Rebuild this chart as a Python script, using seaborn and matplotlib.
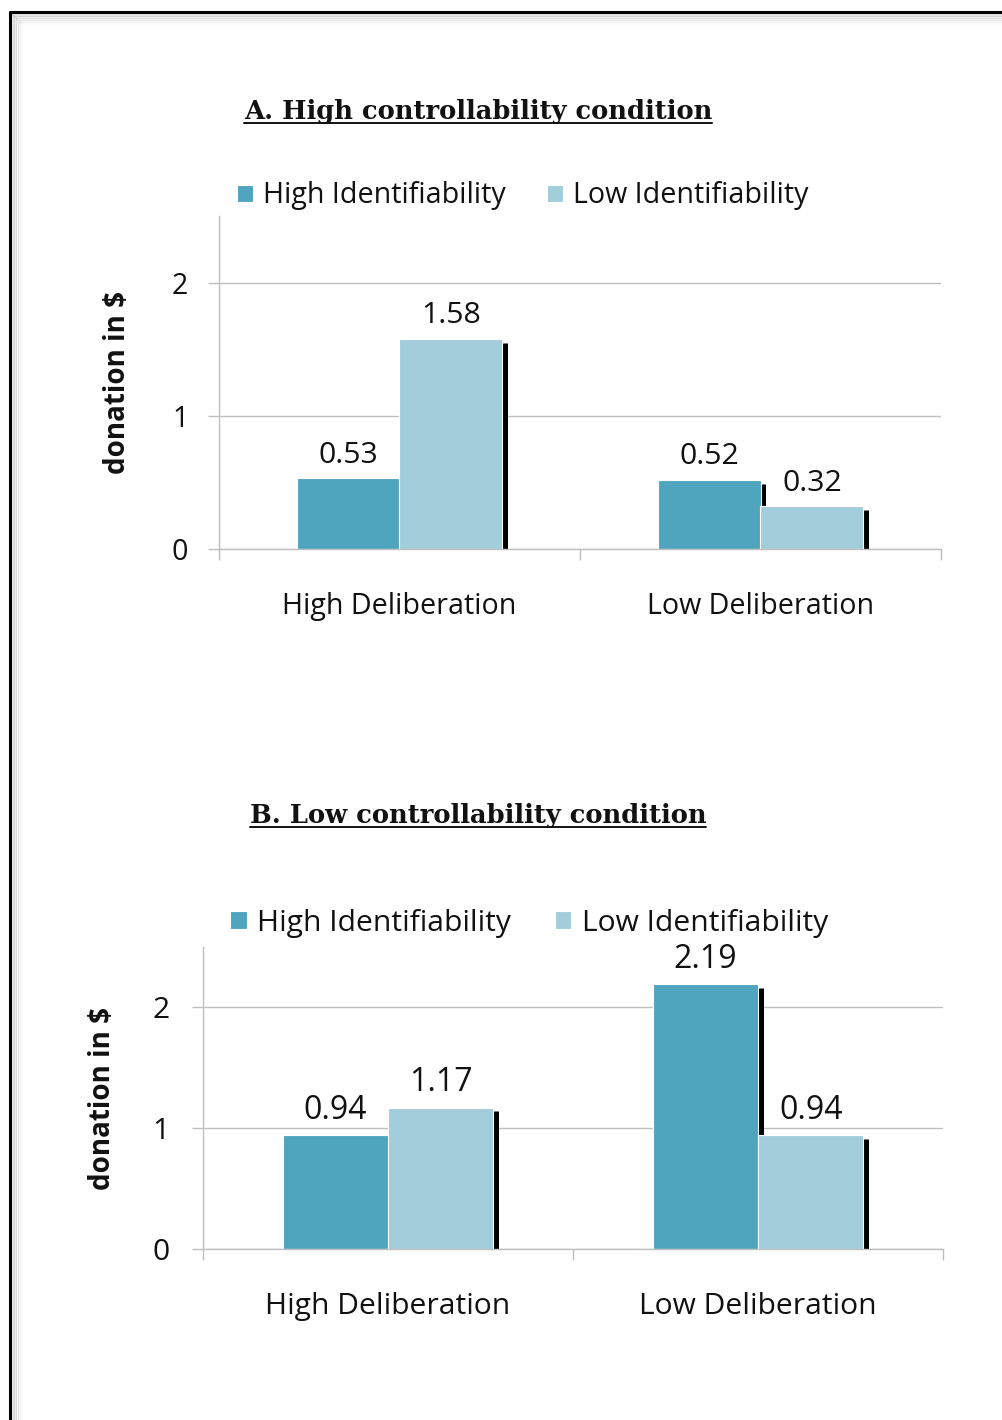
import matplotlib
matplotlib.use("Agg")
import matplotlib.pyplot as plt
from matplotlib.lines import Line2D
from matplotlib.ticker import FixedLocator, NullFormatter
import seaborn as sns
import pandas as pd

# Data
deliberation = ["High Deliberation", "Low Deliberation"]
identifiability = ["High Identifiability", "Low Identifiability"]
high_ctrl_high_ident = [0.53, 0.52]
high_ctrl_low_ident = [1.58, 0.32]
low_ctrl_high_ident = [0.94, 2.19]
low_ctrl_low_ident = [1.17, 0.94]
y_ticks = [0, 1, 2]

DARK = "#4FA5BE"
LIGHT = "#A2CEDB"
GRID = "#BFBFBF"
TXT = "#111111"

sns.set_theme(style="white")
plt.rcParams["font.family"] = ["Open Sans", "DejaVu Sans"]


def long_frame(high_vals, low_vals):
    rows = []
    for d, hv, lv in zip(deliberation, high_vals, low_vals):
        rows.append({"deliberation": d, "ident": identifiability[0], "donation": hv})
        rows.append({"deliberation": d, "ident": identifiability[1], "donation": lv})
    return pd.DataFrame(rows)


fig = plt.figure(figsize=(10.03, 14.2), dpi=100)


def panel(rect, df, title, title_xy, legend_xy, ylabel_x, fs, val_fs, ypad):
    ax = fig.add_axes(rect)
    sns.barplot(data=df, x="deliberation", y="donation", hue="ident",
                order=deliberation, hue_order=identifiability,
                palette=[DARK, LIGHT], saturation=1, width=0.57, gap=0,
                edgecolor="white", linewidth=0.8, ax=ax, legend=True)
    ax.set_axisbelow(True)
    ax.set_ylim(0, 2.5)
    ax.set_xlim(-0.5, 1.5)

    # dark shadow strip along the right edge of every bar
    for p in ax.patches:
        h = p.get_height()
        if h <= 0:
            continue
        xr = p.get_x() + p.get_width() + 0.0075
        ax.vlines(xr, 0, h - 0.03, colors="black", linewidth=3.6, zorder=0.9)

    # value labels
    for cont in ax.containers:
        ax.bar_label(cont, labels=[f"{v:.2f}" for v in cont.datavalues],
                     padding=6, fontsize=val_fs, color=TXT)

    # axes styling
    for s in ["top", "right"]:
        ax.spines[s].set_visible(False)
    for s in ["left", "bottom"]:
        ax.spines[s].set_color(GRID)
        ax.spines[s].set_linewidth(1.0)
    ax.set_yticks(y_ticks)
    ax.set_yticklabels([str(t) for t in y_ticks])
    ax.yaxis.grid(True, color=GRID, linewidth=1.0)
    ax.tick_params(axis="y", which="major", length=8, width=1, color=GRID,
                   direction="out", left=True, pad=ypad, labelsize=fs,
                   labelcolor=TXT)
    ax.tick_params(axis="x", which="major", length=0, pad=31, labelsize=fs,
                   labelcolor=TXT)
    ax.xaxis.set_minor_locator(FixedLocator([-0.5, 0.5, 1.5]))
    ax.xaxis.set_minor_formatter(NullFormatter())
    ax.tick_params(axis="x", which="minor", length=8, width=1, color=GRID,
                   direction="out", bottom=True)
    ax.set_xlabel("")
    ax.set_ylabel("")

    fig.text(ylabel_x, rect[1] + rect[3] * 0.5, "donation in $",
             rotation=90, ha="center", va="center", fontsize=20,
             fontweight="bold", color=TXT)

    handles, labels = ax.get_legend_handles_labels()
    ax.legend_.remove()
    fig.legend(handles, labels, loc="center", bbox_to_anchor=legend_xy,
               ncol=2, frameon=False, fontsize=fs, handlelength=0.55,
               handleheight=0.55, handletextpad=0.35, columnspacing=1.45,
               labelcolor=TXT)

    t = fig.text(title_xy[0], title_xy[1], title, ha="center", va="center",
                 fontsize=18.5, fontweight="bold", family="DejaVu Serif",
                 color=TXT)
    return ax, t


W, H = 1003, 1420
rectA = [219 / W, 1 - 549 / H, (941 - 219) / W, (549 - 216) / H]
rectB = [203 / W, 1 - 1249 / H, (943 - 203) / W, (1249 - 947) / H]

axA, tA = panel(rectA, long_frame(high_ctrl_high_ident, high_ctrl_low_ident),
                "A. High controllability condition", (478 / W, 1 - 111 / H),
                (523 / W, 1 - 196 / H), 118 / W, 20.6, 21.8, 14)
axB, tB = panel(rectB, long_frame(low_ctrl_high_ident, low_ctrl_low_ident),
                "B. Low controllability condition", (478 / W, 1 - 815 / H),
                (529 / W, 1 - 923 / H), 102 / W, 21.6, 23, 16)

# underline the panel titles
fig.canvas.draw()
renderer = fig.canvas.get_renderer()
for t in (tA, tB):
    bb = t.get_window_extent(renderer).transformed(fig.transFigure.inverted())
    y = bb.y0 + 0.0005
    fig.add_artist(Line2D([bb.x0, bb.x1], [y, y], transform=fig.transFigure,
                          color=TXT, linewidth=1.4))

# page frame with a soft inner shadow
for i, a in enumerate([0.10, 0.08, 0.06, 0.04, 0.02]):
    off = (3 + 2 * i)
    fig.add_artist(Line2D([(10 + off) / W, 1], [1 - (12 + off) / H] * 2,
                          transform=fig.transFigure, color="black",
                          alpha=a, linewidth=2))
    fig.add_artist(Line2D([(10 + off) / W] * 2, [0, 1 - (12 + off) / H],
                          transform=fig.transFigure, color="black",
                          alpha=a, linewidth=2))
fig.add_artist(Line2D([10 / W, 1], [1 - 12 / H] * 2, transform=fig.transFigure,
                      color="black", linewidth=2.2))
fig.add_artist(Line2D([10 / W] * 2, [0, 1 - 12 / H], transform=fig.transFigure,
                      color="black", linewidth=2.2))

fig.savefig("out.png", dpi=100, facecolor="white")
